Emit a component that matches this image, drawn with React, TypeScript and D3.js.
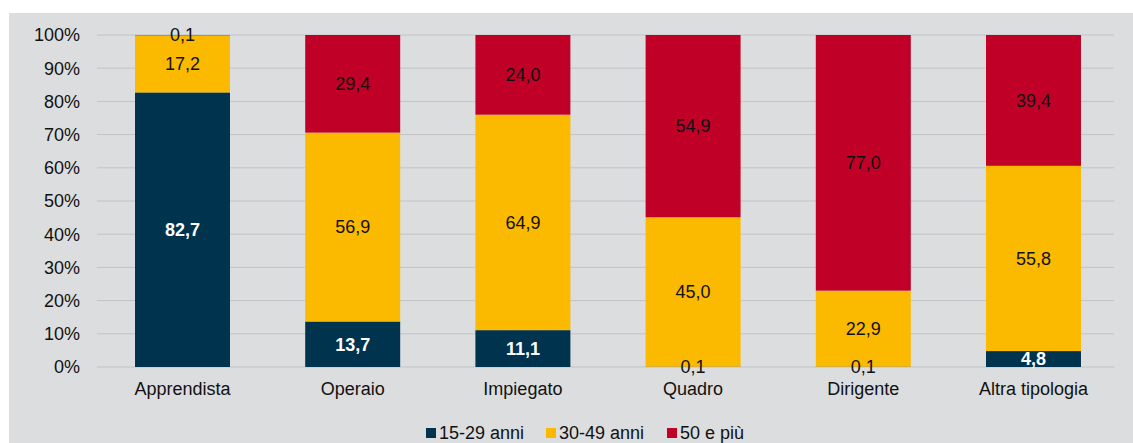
import React from "react";
import * as d3 from "d3";

const categories = ["Apprendista", "Operaio", "Impiegato", "Quadro", "Dirigente", "Altra tipologia"];
const seriesNames = ["15-29 anni", "30-49 anni", "50 e più"];
const young = [82.7, 13.7, 11.1, 0.1, 0.1, 4.8];
const middle = [17.2, 56.9, 64.9, 45.0, 22.9, 55.8];
const old = [0.1, 29.4, 24.0, 54.9, 77.0, 39.4];
const yTicks = [0, 10, 20, 30, 40, 50, 60, 70, 80, 90, 100];

const colors = ["#00334E", "#FBBA00", "#C00027"];

export default function App() {
  const W = 1133, H = 443;
  const x0 = 97, x1 = 1114, yTop = 35, yBot = 367;
  const x = d3.scaleBand<string>().domain(categories).range([97.4, 1118.6]).paddingInner(0.442).paddingOuter(0.221);
  const y = d3.scaleLinear().domain([0, 100]).range([yBot, yTop]);
  const rows = categories.map((c, i) => ({ cat: c, v: [young[i], middle[i], old[i]] }));
  const font = "'Liberation Sans', Arial, sans-serif";
  const fs = 18;

  return (
    <svg width={W} height={H} style={{ position: "absolute", left: 0, top: 0 }}>
      <rect x={9} y={13} width={W - 9} height={H - 13} fill="#DCDDDF" />
      {yTicks.map((t) => (
        <g key={t}>
          <line x1={x0} x2={x1} y1={y(t)} y2={y(t)} stroke="#C2C3C6" strokeWidth={1} />
          <text x={80} y={y(t)} dy="0.35em" textAnchor="end" fontFamily={font} fontSize={fs} fill="#111">{t}%</text>
        </g>
      ))}
      {rows.map((r) => {
        let acc = 0;
        return (
          <g key={r.cat}>
            {r.v.map((v, k) => {
              const lo = acc, hi = acc + v;
              acc = hi;
              return (
                <rect key={k} x={x(r.cat)} width={x.bandwidth()} y={y(hi)} height={y(lo) - y(hi)} fill={colors[k]} />
              );
            })}
          </g>
        );
      })}
      {rows.map((r) => {
        let acc = 0;
        return (
          <g key={r.cat + "l"}>
            {r.v.map((v, k) => {
              const mid = acc + v / 2;
              acc += v;
              const white = k === 0 && v > 1;
              return (
                <text key={k} x={(x(r.cat) as number) + x.bandwidth() / 2} y={y(mid)} dy="0.35em" textAnchor="middle"
                  fontFamily={font} fontSize={fs} fontWeight={white ? "bold" : "normal"}
                  fill={white ? "#FFFFFF" : "#111"}>
                  {v.toFixed(1).replace(".", ",")}
                </text>
              );
            })}
          </g>
        );
      })}
      {categories.map((c) => (
        <text key={c} x={(x(c) as number) + x.bandwidth() / 2} y={395} textAnchor="middle" fontFamily={font} fontSize={fs} fill="#111">{c}</text>
      ))}
      {seriesNames.map((s, i) => {
        const lx = [426, 546, 667][i];
        return (
          <g key={s}>
            <rect x={lx} y={428} width={10} height={10} fill={colors[i]} />
            <text x={lx + 13} y={439} fontFamily={font} fontSize={fs} fill="#111">{s}</text>
          </g>
        );
      })}
    </svg>
  );
}
